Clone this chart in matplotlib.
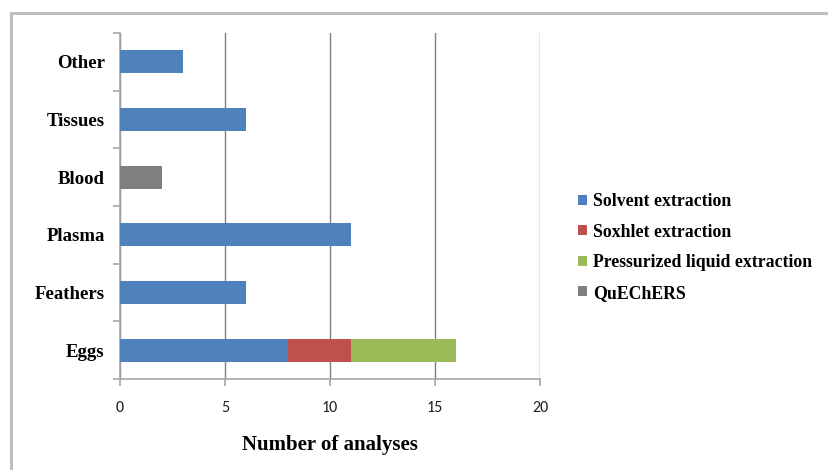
import matplotlib
matplotlib.use("Agg")
import matplotlib.pyplot as plt
from matplotlib.patches import Rectangle
import numpy as np

categories = ["Eggs", "Feathers", "Plasma", "Blood", "Tissues", "Other"]
methods = ["Solvent extraction", "Soxhlet extraction",
           "Pressurized liquid extraction", "QuEChERS"]
solvent = [8, 6, 11, 0, 6, 3]
soxhlet = [3, 0, 0, 0, 0, 0]
pressurized = [5, 0, 0, 0, 0, 0]
quechers = [0, 0, 0, 2, 0, 0]
colors = ["#4F81BD", "#C0504D", "#9BBB59", "#7F7F7F"]
xticks = [0, 5, 10, 15, 20]

serif = ["Liberation Serif", "DejaVu Serif"]
sans = ["Carlito", "Lato", "DejaVu Sans"]

fig = plt.figure(figsize=(8.29, 4.70), dpi=100)
ax = fig.add_axes([120 / 829, 1 - 379 / 470, 420 / 829, 346 / 470])

y = np.arange(len(categories))
left = np.zeros(len(categories))
for vals, name, col in zip([solvent, soxhlet, pressurized, quechers], methods, colors):
    vals = np.array(vals, dtype=float)
    ax.barh(y, vals, left=left, height=0.4, color=col, label=name, zorder=3)
    left += vals

ax.set_xlim(0, 20)
ax.set_ylim(-0.5, len(categories) - 0.5)
ax.set_xticks(xticks)
ax.set_xticklabels([str(t) for t in xticks], family=sans, fontsize=11.5, color="#222222")
ax.set_yticks(y)
ax.set_yticklabels(categories, family=serif, fontweight="bold", fontsize=13.5)
ax.set_yticks(np.arange(-0.5, len(categories), 1.0), minor=True)
ax.tick_params(axis="y", which="major", length=0, pad=11)
ax.tick_params(axis="y", which="minor", length=5, color="#A6A6A6", width=1.2)
ax.tick_params(axis="x", which="major", length=5, color="#A6A6A6", width=1.2, pad=11)

ax.grid(axis="x", color="#808080", linewidth=1.0, zorder=0)
for s in ["top", "right"]:
    ax.spines[s].set_visible(False)
for s in ["left", "bottom"]:
    ax.spines[s].set_color("#A6A6A6")
    ax.spines[s].set_linewidth(1.2)

ax.set_xlabel("Number of analyses", family=serif, fontweight="bold", fontsize=15, labelpad=14)

leg = fig.legend(loc="upper left", bbox_to_anchor=(562 / 829, 1 - 177 / 470),
                 frameon=False, handlelength=0.5, handleheight=0.5,
                 handletextpad=0.35, labelspacing=0.76,
                 prop={"family": serif, "weight": "bold", "size": 12.8})

# outer chart frame
fig.patches.append(Rectangle((11 / 829, -0.1), 1.2, 1 - 13 / 470 + 0.1,
                             transform=fig.transFigure, fill=False,
                             edgecolor="#BFBFBF", linewidth=2.2))

fig.savefig("out.png", dpi=100)
